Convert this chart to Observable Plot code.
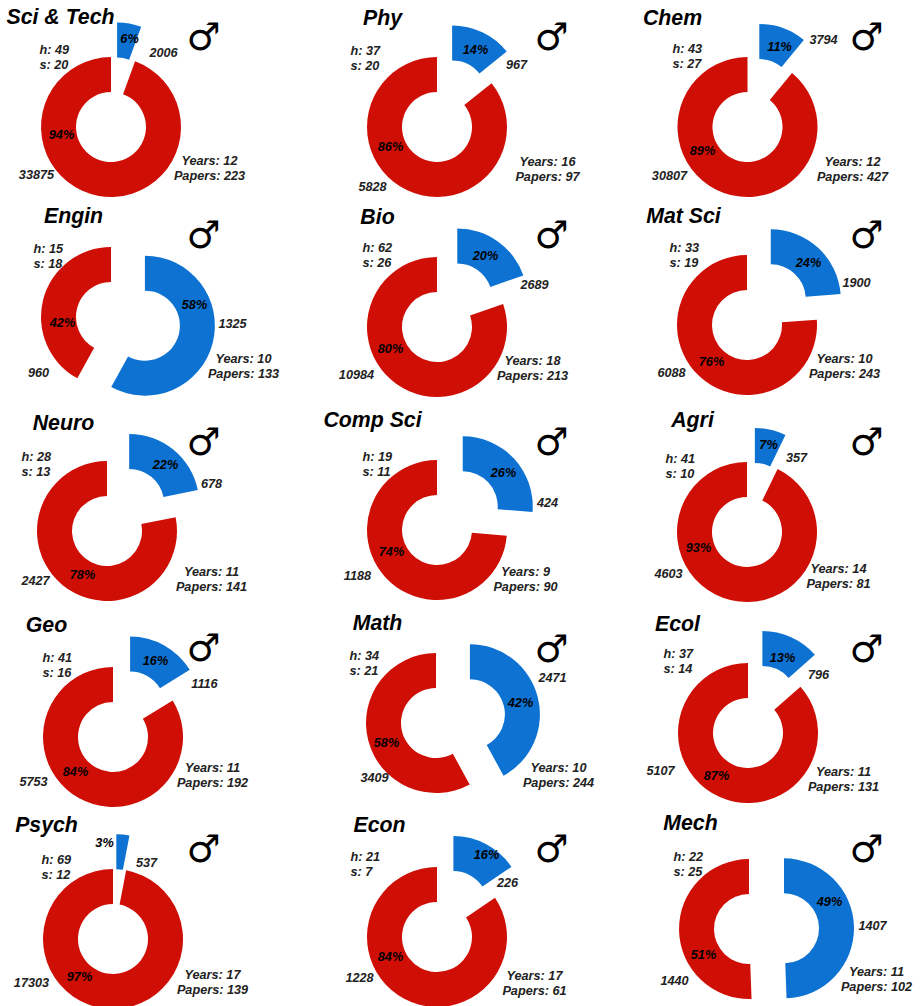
<!DOCTYPE html>
<html>
<head>
<meta charset="utf-8">
<script src="https://cdn.jsdelivr.net/npm/d3@7"></script>
<script src="https://cdn.jsdelivr.net/npm/@observablehq/plot@0.6"></script>
<style>
  html, body { margin: 0; padding: 0; background: #fff; }
  svg { display: block; }
</style>
</head>
<body>
<div id="chart"></div>
<script>
// Author counts and bibliometric indices per research field
const fields = ["Sci & Tech","Phy","Chem","Engin","Bio","Mat Sci","Neuro","Comp Sci","Agri","Geo","Math","Ecol","Psych","Econ","Mech"];
const blueCounts = [2006,967,3794,1325,2689,1900,678,424,357,1116,2471,796,537,226,1407];
const redCounts = [33875,5828,30807,960,10984,6088,2427,1188,4603,5753,3409,5107,17303,1228,1440];
const hIndex = [49,37,43,15,62,33,28,19,41,41,34,37,69,21,22];
const sIndex = [20,20,27,18,26,19,13,11,10,16,21,14,12,7,25];
const years = [12,16,12,10,18,10,11,9,14,11,10,11,17,17,11];
const papers = [223,97,427,133,213,243,141,90,81,192,244,131,139,61,102];

// Layout of each panel, in page units
const centers = [[111,127],[437,127],[747.5,127],[111,317],[437,327],[747,325],[107,531],[437,530],[747,532],[113,737],[436,723],[748,733],[113,939],[437,937],[749,929]];
const titleAt = [[60,17],[382,18],[672,18],[73,216],[377,217],[683,216],[63,423],[372,420],[692,420],[46,625],[377,623],[677,624],[46,825],[379,825],[690,823]];
const indexAt = [[39,49],[350,50],[672,48],[33,248],[362,247],[669,247],[21,456],[362,456],[665,458],[42,657],[349,655],[663,653],[41,859],[350,856],[673,856]];
const blueCountAt = [[163,52],[516,64],[823,39],[232,323],[534,284],[856,282],[211,483],[547,502],[796,457],[204,683],[552,677],[818,674],[146,862],[507,882],[872,925]];
const redCountAt = [[36,174],[372,186],[669,175],[38,372],[356,374],[671,372],[35,580],[357,575],[668,573],[33,781],[374,777],[660,770],[31,982],[359,977],[674,980]];
const statsAt = [[209,160],[547,161],[852,161],[243,358],[532,360],[844,358],[211,571],[525,571],[838,568],[212,767],[558,767],[843,771],[212,974],[534,975],[876,971]];
const bluePctAt = [[129,38],[475,49],[779,46],[194,304],[485,255],[808,262],[165,464],[503,472],[768,444],[155,660],[520,702],[782,657],[104,842],[486,854],[829,901]];
const redPctAt = [[61,134],[390,146],[702,150],[62,322],[390,348],[711,361],[82,574],[391,551],[698,547],[75,771],[386,742],[716,775],[79,976],[390,956],[703,954]];
const symbolAt = [[203,37],[551,37],[866,37],[203,235],[551,235],[866,235],[203,442],[551,442],[866,442],[203,648],[551,649],[866,649],[203,849],[551,849],[866,849]];

const RED = "#cf0f05";
const BLUE = "#0d72d1";
const OUTER = 70;
const INNER = 35;
const EXPLODE = 35;
const TAU = Math.PI * 2;

// One record per ring segment; the blue share starts at 12 o'clock and is pulled out along its bisector
const slices = fields.flatMap((field, i) => {
  const share = blueCounts[i] / (blueCounts[i] + redCounts[i]);
  const split = share * TAU;
  const [cx, cy] = centers[i];
  return [
    {field, cx, cy, start: split, end: TAU, color: RED},
    {field, cx: cx + EXPLODE * Math.sin(split / 2), cy: cy - EXPLODE * Math.cos(split / 2), start: 0, end: split, color: BLUE}
  ];
});

// Dots supply the scaled centres; each one is redrawn as an annular sector
const ringSector = d3.arc().innerRadius(INNER).outerRadius(OUTER);
function renderSectors(index, scales, values) {
  const g = d3.create("svg:g");
  for (const i of index) {
    g.append("path")
      .attr("transform", `translate(${values.x[i]},${values.y[i]})`)
      .attr("d", ringSector({startAngle: slices[i].start, endAngle: slices[i].end}))
      .attr("fill", slices[i].color);
  }
  return g.node();
}

const font = "'Liberation Sans', Arial, sans-serif";
const pct = (a, b) => Math.round(100 * a / (a + b)) + "%";

function labels(positions, text, options = {}) {
  const rows = positions.map((p, i) => ({x: p[0], y: p[1], text: text(i)}));
  return Plot.text(rows, {
    x: "x", y: "y", text: "text",
    fontFamily: font, fontWeight: "bold", fontStyle: "italic",
    fontSize: 12.7, fill: "#222", lineAnchor: "middle", ...options
  });
}
const below = (positions, dy) => positions.map(([x, y]) => [x, y + dy]);

const plot = Plot.plot({
  width: 920,
  height: 1006,
  margin: 0,
  style: {background: "#fff"},
  x: {domain: [0, 920], range: [0, 920], axis: null},
  y: {domain: [0, 1006], range: [0, 1006], axis: null},
  marks: [
    Plot.dot(slices, {x: "cx", y: "cy", r: OUTER, render: renderSectors}),
    labels(titleAt, i => fields[i], {fontSize: 21.3, fill: "#000"}),
    labels(indexAt, i => `h: ${hIndex[i]}`, {textAnchor: "start"}),
    labels(below(indexAt, 15), i => `s: ${sIndex[i]}`, {textAnchor: "start"}),
    labels(blueCountAt, i => String(blueCounts[i])),
    labels(redCountAt, i => String(redCounts[i])),
    labels(statsAt, i => `Years: ${years[i]}`),
    labels(below(statsAt, 15), i => `Papers: ${papers[i]}`),
    labels(bluePctAt, i => pct(blueCounts[i], redCounts[i]), {fill: "#000"}),
    labels(redPctAt, i => pct(redCounts[i], blueCounts[i]), {fill: "#000"}),
    labels(symbolAt, () => "\u2642", {fontFamily: "'DejaVu Sans'", fontStyle: "normal", fontWeight: "bold", fontSize: 38, fill: "#000"})
  ]
});
document.getElementById("chart").append(plot);
</script>
</body>
</html>
